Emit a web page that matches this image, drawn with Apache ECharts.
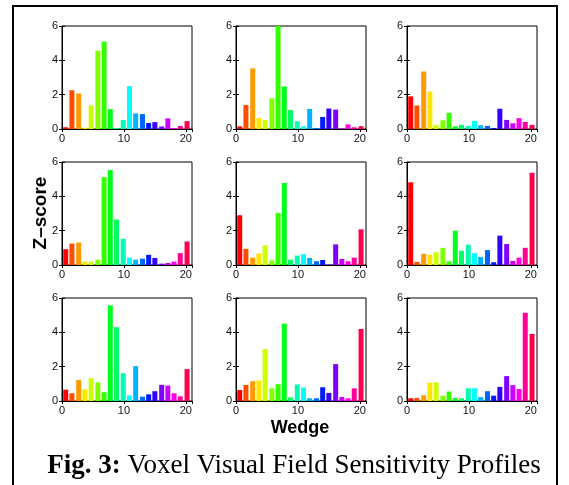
<!DOCTYPE html>
<html>
<head>
<meta charset="utf-8">
<script src="https://cdn.jsdelivr.net/npm/echarts@6/dist/echarts.min.js"></script>
<style>
  html, body { margin: 0; padding: 0; background: #fff; }
  #chart { width: 569px; height: 485px; }
</style>
</head>
<body>
<div id="chart"></div>
<script>
// wedge positions as drawn along the x axis
var wedges = [0.6, 1.6, 2.7, 3.7, 4.7, 5.8, 6.8, 7.8, 8.8, 9.9, 10.9, 11.9, 13.0, 14.0, 15.0, 16.1, 17.1, 18.1, 19.1, 20.2];

// z-scores, one list per voxel (row by row)
var voxel1 = [0.10, 2.26, 2.07, 0.08, 1.37, 4.56, 5.09, 1.16, 0.06, 0.52, 2.50, 0.91, 0.87, 0.35, 0.40, 0.15, 0.62, 0.06, 0.17, 0.46];
var voxel2 = [0.15, 1.40, 3.53, 0.64, 0.53, 1.79, 6.00, 2.48, 1.11, 0.45, 0.16, 1.17, 0.06, 0.70, 1.19, 1.13, 0.04, 0.27, 0.10, 0.16];
var voxel3 = [1.90, 1.37, 3.35, 2.18, 0.24, 0.51, 0.94, 0.16, 0.24, 0.18, 0.47, 0.22, 0.18, 0.06, 1.18, 0.53, 0.33, 0.63, 0.41, 0.24];
var voxel4 = [0.92, 1.25, 1.31, 0.20, 0.20, 0.31, 5.12, 5.53, 2.65, 1.53, 0.43, 0.31, 0.37, 0.59, 0.41, 0.08, 0.12, 0.20, 0.69, 1.37];
var voxel5 = [2.90, 0.94, 0.43, 0.67, 1.14, 0.27, 3.04, 4.78, 0.31, 0.55, 0.63, 0.41, 0.22, 0.29, 0.02, 1.20, 0.35, 0.22, 0.43, 2.08];
var voxel6 = [4.82, 0.18, 0.65, 0.61, 0.75, 1.00, 0.22, 2.00, 0.83, 1.18, 0.69, 0.47, 0.87, 0.16, 1.71, 1.22, 0.24, 0.43, 1.00, 5.37];
var voxel7 = [0.66, 0.45, 1.23, 0.68, 1.33, 1.09, 0.51, 5.57, 4.30, 1.62, 0.33, 2.03, 0.25, 0.39, 0.57, 0.94, 0.90, 0.45, 0.27, 1.86];
var voxel8 = [0.64, 0.94, 1.15, 1.19, 3.03, 0.74, 0.98, 4.51, 0.21, 0.96, 0.78, 0.16, 0.16, 0.80, 0.47, 2.15, 0.23, 0.16, 0.74, 4.20];
var voxel9 = [0.16, 0.18, 0.33, 1.07, 1.09, 0.31, 0.55, 0.18, 0.16, 0.74, 0.74, 0.23, 0.57, 0.31, 0.82, 1.45, 0.92, 0.70, 5.14, 3.91];
var voxels = [voxel1, voxel2, voxel3, voxel4, voxel5, voxel6, voxel7, voxel8, voxel9];

var yTicks = [0, 2, 4, 6];
var xTicks = [0, 10, 20];

// hsv(20) colormap
var colors = ["#FF0000", "#FF4D00", "#FF9900", "#FFE600", "#CCFF00", "#80FF00", "#33FF00", "#00FF1A", "#00FF66", "#00FFB3",
  "#00FFFF", "#00B3FF", "#0066FF", "#001AFF", "#3300FF", "#8000FF", "#CC00FF", "#FF00E6", "#FF0099", "#FF004D"];

var colLeft = [62, 236, 407];
var rowTop = [26, 162, 298];
var plotW = 130, plotH = 103;

var myChart = echarts.init(document.getElementById("chart"), null, { renderer: "canvas" });

var grids = [], xAxes = [], yAxes = [], series = [];
for (var i = 0; i < 9; i++) {
  var r = Math.floor(i / 3), c = i % 3;
  grids.push({
    left: colLeft[c], top: rowTop[r], width: plotW, height: plotH,
    show: true, borderColor: "#000", borderWidth: 1, backgroundColor: "#fff"
  });
  // bottom axis with labels
  xAxes.push({
    gridIndex: i, type: "value", min: xTicks[0], max: 21, interval: 10, position: "bottom",
    axisLine: { show: true, lineStyle: { color: "#000", width: 1 } },
    axisTick: { show: true, inside: true, length: 3, lineStyle: { color: "#000" } },
    axisLabel: { show: true, showMaxLabel: false, color: "#111", fontSize: 11, fontFamily: "Liberation Sans", margin: 4 },
    splitLine: { show: false }
  });
  // mirrored top axis, ticks only
  xAxes.push({
    gridIndex: i, type: "value", min: 0, max: 21, interval: 10, position: "top",
    axisLine: { show: false },
    axisTick: { show: true, inside: true, length: 3, lineStyle: { color: "#000" } },
    axisLabel: { show: false },
    splitLine: { show: false }
  });
  yAxes.push({
    gridIndex: i, type: "value", min: yTicks[0], max: yTicks[yTicks.length - 1], interval: 2, position: "left",
    axisLine: { show: true, lineStyle: { color: "#000", width: 1 } },
    axisTick: { show: true, inside: true, length: 3, lineStyle: { color: "#000" } },
    axisLabel: { show: true, color: "#111", fontSize: 11, fontFamily: "Liberation Sans", margin: 4 },
    splitLine: { show: false }
  });
  yAxes.push({
    gridIndex: i, type: "value", min: 0, max: 6, interval: 2, position: "right",
    axisLine: { show: false },
    axisTick: { show: true, inside: true, length: 3, lineStyle: { color: "#000" } },
    axisLabel: { show: false },
    splitLine: { show: false }
  });
  var pts = [];
  for (var k = 0; k < wedges.length; k++) {
    pts.push([wedges[k], voxels[i][k]]);
  }
  series.push({
    type: "bar",
    xAxisIndex: i * 2,
    yAxisIndex: i * 2,
    barWidth: 5,
    data: pts,
    clip: true,
    animation: false,
    itemStyle: {
      color: function (p) { return colors[p.dataIndex]; }
    }
  });
}

myChart.setOption({
  backgroundColor: "#fff",
  animation: false,
  grid: grids,
  xAxis: xAxes,
  yAxis: yAxes,
  series: series,
  graphic: [
    {
      type: "rect",
      shape: { x: 13, y: 6, width: 544, height: 490 },
      style: { fill: null, stroke: "#000", lineWidth: 2 },
      z: 10
    },
    {
      type: "text",
      x: 41, y: 213,
      rotation: Math.PI / 2,
      style: {
        text: "Z\u2013score",
        font: "bold 19px 'Liberation Sans'",
        fill: "#000",
        align: "center",
        verticalAlign: "middle"
      }
    },
    {
      type: "text",
      x: 300, y: 428,
      style: {
        text: "Wedge",
        font: "bold 18px 'Liberation Sans'",
        fill: "#000",
        align: "center",
        verticalAlign: "middle"
      }
    },
    {
      type: "text",
      x: 294, y: 466,
      style: {
        text: "{b|Fig. 3:} Voxel Visual Field Sensitivity Profiles",
        font: "27px 'Liberation Serif'",
        fill: "#000",
        align: "center",
        verticalAlign: "middle",
        rich: {
          b: { font: "bold 27px 'Liberation Serif'", fill: "#000" }
        }
      }
    }
  ]
});
</script>
</body>
</html>
